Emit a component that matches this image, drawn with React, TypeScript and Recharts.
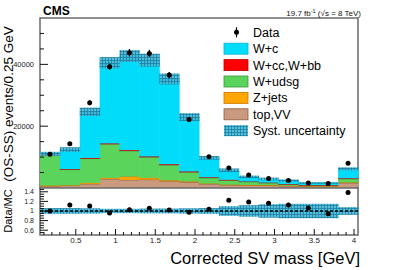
import {
  ComposedChart,
  Bar,
  Scatter,
  ErrorBar,
  XAxis,
  YAxis,
  ReferenceArea,
  ReferenceLine,
} from 'recharts';

// 16 bins of 0.25 GeV in corrected SV mass
const binLabels = [
  '0.05-0.30', '0.30-0.55', '0.55-0.80', '0.80-1.05', '1.05-1.30', '1.30-1.55', '1.55-1.80', '1.80-2.05',
  '2.05-2.30', '2.30-2.55', '2.55-2.80', '2.80-3.05', '3.05-3.30', '3.30-3.55', '3.55-3.80', '3.80-4.05',
];
const binCenters = [
  0.175, 0.425, 0.675, 0.925, 1.175, 1.425, 1.675, 1.925,
  2.175, 2.425, 2.675, 2.925, 3.175, 3.425, 3.675, 3.925,
];

// stacked MC, bottom to top
const topVV = [550, 780, 1320, 2940, 2620, 2720, 2180, 1900, 1300, 1000, 900, 880, 680, 550, 550, 1650];
const zJets = [230, 100, 330, 330, 1070, 550, 320, 250, 150, 100, 80, 60, 50, 40, 40, 150];
const wUdsg = [9720, 5080, 7870, 10890, 8320, 6680, 4900, 2940, 1820, 1400, 1020, 710, 470, 290, 290, 1140];
const wCcBb = [150, 150, 200, 250, 250, 250, 300, 250, 200, 150, 100, 80, 60, 50, 50, 200];
const wC = [400, 6330, 14930, 26120, 30410, 31180, 27600, 17610, 6280, 3090, 1490, 1210, 1140, 720, 720, 3050];

const dataCounts = [10900, 14290, 27560, 39230, 43770, 43550, 36520, 22160, 10070, 6510, 4200, 3050, 2400, 1650, 1430, 8000];
const dataErrors = [500, 600, 800, 1000, 1200, 1200, 1000, 800, 500, 400, 350, 300, 300, 250, 250, 400];

const ratioValues = [1.0, 1.126, 1.105, 0.958, 1.028, 1.056, 1.021, 0.972, 1.035, 1.225, 1.19, 1.16, 1.126, 1.063, 0.944, 1.386];
const systRel = [0.06, 0.06, 0.055, 0.045, 0.045, 0.05, 0.05, 0.055, 0.06, 0.1, 0.12, 0.14, 0.15, 0.15, 0.15, 0.08];

const mainLabelTicks = [20000, 40000];
const mainAllTicks = [5000, 10000, 15000, 20000, 25000, 30000, 35000, 40000, 45000, 50000];
const ratioLabelTicks = [0.6, 0.8, 1, 1.2, 1.4];
const ratioAllTicks = [0.55, 0.6, 0.65, 0.7, 0.75, 0.8, 0.85, 0.9, 0.95, 1, 1.05, 1.1, 1.15, 1.2, 1.25, 1.3, 1.35, 1.4, 1.45];
const xLabelTicks = [0.5, 1, 1.5, 2, 2.5, 3, 3.5, 4];
const xAllTicks = [
  0.1, 0.2, 0.3, 0.4, 0.5, 0.6, 0.7, 0.8, 0.9, 1, 1.1, 1.2, 1.3, 1.4, 1.5, 1.6, 1.7, 1.8, 1.9, 2,
  2.1, 2.2, 2.3, 2.4, 2.5, 2.6, 2.7, 2.8, 2.9, 3, 3.1, 3.2, 3.3, 3.4, 3.5, 3.6, 3.7, 3.8, 3.9, 4,
];

const legendLabels = ['Data', 'W+c', 'W+cc,W+bb', 'W+udsg', 'Z+jets', 'top,VV', 'Syst. uncertainty'];

const COLORS = {
  wC: '#00dcfa',
  wCcBb: '#ff0000',
  wUdsg: '#5ad45a',
  zJets: '#ffa500',
  topVV: '#c99a7f',
};
const EDGES = {
  wC: '#00b8d8',
  wCcBb: '#c00000',
  wUdsg: '#3c9a3c',
  zJets: '#d07800',
  topVV: '#8f5a3a',
};

const rows = binLabels.map((bin, i) => {
  const total = topVV[i] + zJets[i] + wUdsg[i] + wCcBb[i] + wC[i];
  return {
    bin,
    x: binCenters[i],
    topVV: topVV[i],
    zJets: zJets[i],
    wUdsg: wUdsg[i],
    wCcBb: wCcBb[i],
    wC: wC[i],
    data: dataCounts[i],
    err: dataErrors[i],
    ratio: ratioValues[i],
    syst: [total * (1 - systRel[i]), total * (1 + systRel[i])],
    band: [1 - systRel[i], 1 + systRel[i]],
  };
});

const FONT = '"Liberation Sans", Arial, Helvetica, sans-serif';
const X_DOMAIN: [number, number] = [0.05, 4.05];

// bar with fill + darker top edge (histogram look)
const edgeShape = (edge: string) => (p: any) => {
  if (!p.height || p.height <= 0) return <g />;
  return (
    <g>
      <rect x={p.x} y={p.y} width={p.width + 0.4} height={p.height} fill={p.fill} />
      <line x1={p.x} x2={p.x + p.width} y1={p.y} y2={p.y} stroke={edge} strokeWidth={1} />
    </g>
  );
};

const systShape = (patternId: string) => (p: any) => (
  <rect x={p.x} y={p.y} width={p.width + 0.4} height={Math.max(p.height, 0.5)} fill={`url(#${patternId})`} />
);

const dot = (p: any) => <circle cx={p.cx} cy={p.cy} r={2.5} fill="#000" />;

const YTick = (props: any) => {
  const { x, y, payload, labels, fontSize } = props;
  const v = payload.value;
  const major = labels.includes(v);
  return (
    <g>
      <line x1={x} x2={x + (major ? 8 : 4)} y1={y} y2={y} stroke="#111" strokeWidth={1} />
      {major && (
        <text x={x - 6} y={y} dy="0.35em" textAnchor="end" fontSize={fontSize} fill="#222" fontFamily={FONT}>
          {String(v)}
        </text>
      )}
    </g>
  );
};

const XTick = (props: any) => {
  const { x, y, payload, showLabels } = props;
  const v = payload.value;
  const major = xLabelTicks.includes(v);
  return (
    <g>
      <line x1={x} x2={x} y1={y} y2={y - (major ? 6 : 3)} stroke="#111" strokeWidth={1} />
      {major && showLabels && (
        <text x={x} y={y + 7.7} textAnchor="middle" fontSize={8} fill="#222" fontFamily={FONT}>
          {String(v)}
        </text>
      )}
    </g>
  );
};

const SystPattern = ({ id }: { id: string }) => (
  <pattern id={id} width="3" height="3" patternUnits="userSpaceOnUse">
    <rect width="3" height="3" fill="#45b8d6" fillOpacity={0.9} />
    <path d="M0 0.5H3M0.5 0V3" stroke="#1a7fa3" strokeWidth="0.8" />
  </pattern>
);

function MainPanel() {
  return (
    <ComposedChart
      width={399}
      height={190}
      data={rows}
      margin={{ top: 18, right: 41, bottom: 2, left: 0 }}
      barCategoryGap={0}
      barGap={0}
    >
      <defs>
        <SystPattern id="systMain" />
      </defs>
      <XAxis xAxisId="bins" dataKey="bin" type="category" hide />
      <XAxis xAxisId="unc" dataKey="bin" type="category" hide />
      <XAxis
        xAxisId="num"
        dataKey="x"
        type="number"
        domain={X_DOMAIN}
        allowDataOverflow
        ticks={xAllTicks}
        interval={0}
        height={0}
        axisLine={false}
        tickLine={false}
        tickSize={0}
        tickMargin={0}
        tick={(p: any) => <XTick {...p} showLabels={false} />}
      />
      <YAxis
        yAxisId="y"
        type="number"
        domain={[0, 55000]}
        allowDataOverflow
        ticks={mainAllTicks}
        interval={0}
        width={40}
        axisLine={false}
        tickLine={false}
        tickSize={0}
        tickMargin={0}
        tick={(p: any) => <YTick {...p} labels={mainLabelTicks} fontSize={7.5} />}
      />
      <Bar xAxisId="bins" yAxisId="y" dataKey="topVV" stackId="mc" fill={COLORS.topVV} shape={edgeShape(EDGES.topVV)} isAnimationActive={false} />
      <Bar xAxisId="bins" yAxisId="y" dataKey="zJets" stackId="mc" fill={COLORS.zJets} shape={edgeShape(EDGES.zJets)} isAnimationActive={false} />
      <Bar xAxisId="bins" yAxisId="y" dataKey="wUdsg" stackId="mc" fill={COLORS.wUdsg} shape={edgeShape(EDGES.wUdsg)} isAnimationActive={false} />
      <Bar xAxisId="bins" yAxisId="y" dataKey="wCcBb" stackId="mc" fill={COLORS.wCcBb} shape={edgeShape(EDGES.wCcBb)} isAnimationActive={false} />
      <Bar xAxisId="bins" yAxisId="y" dataKey="wC" stackId="mc" fill={COLORS.wC} shape={edgeShape(EDGES.wC)} isAnimationActive={false} />
      <Bar xAxisId="unc" yAxisId="y" dataKey="syst" fill="url(#systMain)" shape={systShape('systMain')} isAnimationActive={false} />
      <Scatter xAxisId="num" yAxisId="y" dataKey="data" fill="#000" shape={dot} isAnimationActive={false}>
        <ErrorBar dataKey="err" direction="y" width={0} stroke="#000" strokeWidth={1.2} />
      </Scatter>
      <ReferenceArea
        xAxisId="num"
        yAxisId="y"
        x1={X_DOMAIN[0]}
        x2={X_DOMAIN[1]}
        y1={0}
        y2={55000}
        fill="none"
        fillOpacity={0}
        stroke="#6a6a6a"
        strokeWidth={1.5}
        ifOverflow="visible"
      />
    </ComposedChart>
  );
}

function RatioPanel() {
  return (
    <ComposedChart
      width={399}
      height={83}
      data={rows}
      margin={{ top: 0, right: 41, bottom: 0, left: 0 }}
      barCategoryGap={0}
      barGap={0}
    >
      <defs>
        <SystPattern id="systRatio" />
      </defs>
      <XAxis xAxisId="unc" dataKey="bin" type="category" hide />
      <XAxis
        xAxisId="num"
        dataKey="x"
        type="number"
        domain={X_DOMAIN}
        allowDataOverflow
        ticks={xAllTicks}
        interval={0}
        height={35}
        axisLine={false}
        tickLine={false}
        tickSize={0}
        tickMargin={0}
        tick={(p: any) => <XTick {...p} showLabels />}
      />
      <YAxis
        yAxisId="r"
        type="number"
        domain={[0.5, 1.5]}
        allowDataOverflow
        ticks={ratioAllTicks}
        interval={0}
        width={40}
        axisLine={false}
        tickLine={false}
        tickSize={0}
        tickMargin={0}
        tick={(p: any) => <YTick {...p} labels={ratioLabelTicks} fontSize={7} />}
      />
      <Bar xAxisId="unc" yAxisId="r" dataKey="band" fill="url(#systRatio)" shape={systShape('systRatio')} isAnimationActive={false} />
      <ReferenceLine xAxisId="num" yAxisId="r" y={1} stroke="#000" strokeWidth={1.5} strokeDasharray="3 2" />
      <Scatter xAxisId="num" yAxisId="r" dataKey="ratio" fill="#000" shape={dot} isAnimationActive={false} />
      <ReferenceArea
        xAxisId="num"
        yAxisId="r"
        x1={X_DOMAIN[0]}
        x2={X_DOMAIN[1]}
        y1={0.5}
        y2={1.5}
        fill="none"
        fillOpacity={0}
        stroke="#6a6a6a"
        strokeWidth={1.5}
        ifOverflow="visible"
      />
    </ComposedChart>
  );
}

const legendSwatches = [null, 'wC', 'wCcBb', 'wUdsg', 'zJets', 'topVV', 'syst'];

function Overlay() {
  return (
    <svg width={399} height={270} style={{ position: 'absolute', left: 0, top: 0, pointerEvents: 'none' }} fontFamily={FONT}>
      <defs>
        <SystPattern id="systLegend" />
      </defs>
      <text x={43} y={15} fontSize={12} fontWeight="bold" fill="#000">CMS</text>
      <text x={361} y={15.5} fontSize={8} textAnchor="end" fill="#111">
        19.7 fb<tspan dy={-3} fontSize={5.5}>-1</tspan>
        <tspan dy={3}> (√s = 8 TeV)</tspan>
      </text>

      {legendLabels.map((label, i) => {
        const cy = 32.3 + i * 16.4;
        const key = legendSwatches[i];
        return (
          <g key={label}>
            {key === null ? (
              <g>
                <line x1={236.5} x2={236.5} y1={cy - 5} y2={cy + 5} stroke="#000" strokeWidth={1.2} />
                <circle cx={236.5} cy={cy} r={2.5} fill="#000" />
              </g>
            ) : key === 'syst' ? (
              <rect x={224} y={cy - 5.5} width={24} height={11} fill="url(#systLegend)" />
            ) : (
              <rect
                x={224}
                y={cy - 5.5}
                width={24}
                height={11}
                fill={(COLORS as any)[key]}
                stroke={(EDGES as any)[key]}
                strokeWidth={0.8}
              />
            )}
            <text x={253} y={cy} dy="0.36em" fontSize={12.5} fill="#000">{label}</text>
          </g>
        );
      })}

      <text transform="translate(12.5,104) rotate(-90)" textAnchor="middle" fontSize={13.5} fill="#000">
        (OS-SS) events/0.25 GeV
      </text>
      <text transform="translate(12,211) rotate(-90)" textAnchor="middle" fontSize={11} fill="#000">
        Data/MC
      </text>
      <text x={360} y={263.5} textAnchor="end" fontSize={16.5} fill="#000">
        Corrected SV mass [GeV]
      </text>
    </svg>
  );
}

export default function App() {
  return (
    <div
      style={{
        position: 'absolute',
        left: 0,
        top: 0,
        width: 399,
        height: 270,
        background: '#fff',
        fontFamily: FONT,
        overflow: 'hidden',
      }}
    >
      <div style={{ position: 'absolute', left: 0, top: 0 }}>
        <MainPanel />
      </div>
      <div style={{ position: 'absolute', left: 0, top: 187 }}>
        <RatioPanel />
      </div>
      <Overlay />
    </div>
  );
}
